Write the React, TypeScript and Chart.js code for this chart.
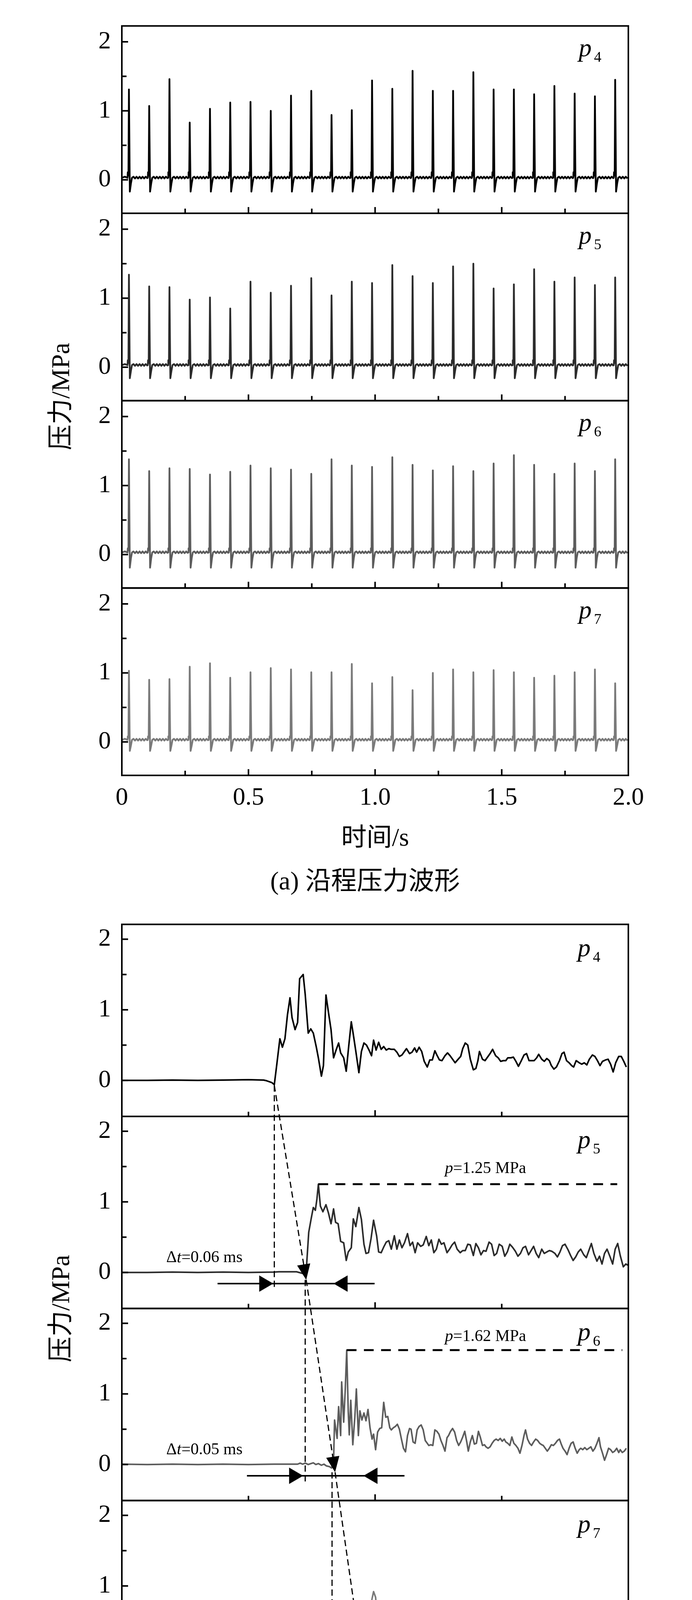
import React, { useEffect, useRef } from 'react';
import { Chart, registerables } from 'chart.js';

Chart.register(...registerables);

const SERIF = '"Liberation Serif", "Times New Roman", serif';
const MIXED = '"Liberation Serif", "Noto Sans CJK SC", serif';

// ---------- shared axis data ----------
const PANEL_IDS = ['y4', 'y5', 'y6', 'y7'];
const PANEL_SUBS = ['4', '5', '6', '7'];
const LINE_COLORS = ['#000000', '#2b2b2b', '#5c5c5c', '#7a7a7a'];
const Y_TICKS = [0, 0.5, 1, 1.5, 2];
const XA_TICKS = [0, 0.25, 0.5, 0.75, 1, 1.25, 1.5, 1.75, 2];
const XA_LABELS = ['0', '', '0.5', '', '1.0', '', '1.5', '', '2.0'];
const XB_TICKS = [0, 0.25, 0.5, 0.75, 1];
const XB_LABELS = ['0', '', '0.5', '', '1.0'];

// ---------- (a) pressure along the line: spike times and peaks ----------
const SPIKE_TIMES = [0.028, 0.108, 0.188, 0.268, 0.348, 0.428, 0.508, 0.588, 0.668, 0.748, 0.828, 0.908, 0.988,
  1.068, 1.148, 1.228, 1.308, 1.388, 1.468, 1.548, 1.628, 1.708, 1.788, 1.868, 1.948];
const PEAKS_P4 = [1.31, 1.07, 1.46, 0.83, 1.03, 1.12, 1.13, 1.0, 1.22, 1.29, 0.94, 1.01, 1.44, 1.32, 1.58, 1.29,
  1.29, 1.56, 1.31, 1.31, 1.24, 1.36, 1.25, 1.21, 1.45];
const PEAKS_P5 = [1.34, 1.17, 1.16, 0.98, 1.01, 0.85, 1.24, 1.08, 1.18, 1.29, 1.04, 1.24, 1.22, 1.48, 1.32, 1.22,
  1.46, 1.5, 1.14, 1.2, 1.42, 1.24, 1.3, 1.19, 1.3];
const PEAKS_P6 = [1.38, 1.21, 1.25, 1.24, 1.16, 1.2, 1.29, 1.25, 1.23, 1.17, 1.38, 1.29, 1.27, 1.41, 1.3, 1.22,
  1.28, 1.21, 1.32, 1.44, 1.3, 1.17, 1.32, 1.21, 1.38];
const PEAKS_P7 = [1.03, 0.9, 0.91, 1.09, 1.14, 0.93, 1.01, 1.07, 1.05, 1.01, 1.01, 1.13, 0.85, 0.94, 0.75, 1.0,
  1.05, 1.01, 1.04, 1.01, 0.93, 0.96, 1.01, 1.05, 0.85];
const TROUGHS = [-0.17, -0.16, -0.19, -0.13];
const BUMPS = [0.11, 0.1, 0.09, 0.08];
// one pulse: time offset from the peak, level (index 1 bump, 3 peak, 4 trough)
const PULSE_DT = [-0.0055, -0.0045, -0.002, 0, 0.0035, 0.008, 0.012, 0.018, 0.024, 0.03, 0.036, 0.042, 0.048,
  0.054, 0.06, 0.066, 0.072];
const PULSE_LEVEL = [0.03, 0.11, 0.06, 1.0, -0.17, -0.05, 0.03, 0.045, 0.02, 0.045, 0.02, 0.045, 0.02, 0.045,
  0.02, 0.045, 0.025];
const LEAD_IN = [[0, 0.03], [0.012, 0.045]];

// ---------- (b) single cycle, read point by point ----------
const P4_CYCLE = [[0, 0], [0.05, 0.0], [0.1, 0.005], [0.15, 0.0], [0.2, 0.005], [0.25, 0.01], [0.28, 0.005],
  [0.286, -0.005], [0.296, -0.03], [0.301, -0.06], [0.306, 0.23], [0.312, 0.59], [0.317, 0.47], [0.322, 0.59],
  [0.327, 0.93], [0.332, 1.17], [0.336, 0.89], [0.342, 0.72], [0.347, 0.82], [0.351, 1.44], [0.358, 1.5],
  [0.362, 1.22], [0.368, 0.67], [0.373, 0.73], [0.378, 0.67], [0.384, 0.47], [0.388, 0.32], [0.394, 0.06],
  [0.398, 0.21], [0.403, 1.21], [0.408, 0.96], [0.413, 0.72], [0.418, 0.32], [0.423, 0.43], [0.428, 0.53],
  [0.432, 0.39], [0.438, 0.32], [0.443, 0.13], [0.448, 0.49], [0.453, 0.83], [0.457, 0.65], [0.462, 0.41],
  [0.468, 0.11], [0.473, 0.41], [0.478, 0.53], [0.483, 0.5], [0.488, 0.43], [0.493, 0.35], [0.497, 0.57],
  [0.502, 0.43], [0.507, 0.54], [0.512, 0.44], [0.517, 0.48], [0.522, 0.43], [0.527, 0.45], [0.532, 0.44],
  [0.538, 0.44], [0.543, 0.4], [0.548, 0.34], [0.553, 0.36], [0.558, 0.41], [0.562, 0.45], [0.568, 0.38],
  [0.573, 0.4], [0.578, 0.46], [0.582, 0.4], [0.587, 0.47], [0.592, 0.41], [0.597, 0.27], [0.603, 0.19],
  [0.608, 0.29], [0.613, 0.29], [0.618, 0.42], [0.622, 0.36], [0.627, 0.29], [0.632, 0.28], [0.638, 0.35],
  [0.643, 0.39], [0.648, 0.35], [0.653, 0.3], [0.658, 0.25], [0.664, 0.3], [0.669, 0.34], [0.673, 0.45],
  [0.678, 0.53], [0.683, 0.5], [0.688, 0.3], [0.694, 0.15], [0.699, 0.17], [0.703, 0.28], [0.706, 0.41],
  [0.712, 0.3], [0.717, 0.28], [0.722, 0.33], [0.727, 0.38], [0.732, 0.44], [0.738, 0.35], [0.743, 0.32],
  [0.748, 0.27], [0.753, 0.28], [0.758, 0.28], [0.762, 0.32], [0.768, 0.32], [0.773, 0.33], [0.778, 0.27],
  [0.783, 0.2], [0.788, 0.27], [0.794, 0.36], [0.799, 0.38], [0.804, 0.28], [0.809, 0.28], [0.814, 0.28],
  [0.819, 0.32], [0.823, 0.37], [0.829, 0.3], [0.834, 0.27], [0.839, 0.31], [0.844, 0.28], [0.848, 0.21],
  [0.853, 0.16], [0.858, 0.19], [0.864, 0.28], [0.869, 0.38], [0.873, 0.4], [0.878, 0.28], [0.883, 0.25],
  [0.888, 0.21], [0.892, 0.19], [0.897, 0.28], [0.903, 0.25], [0.908, 0.23], [0.913, 0.25], [0.918, 0.22],
  [0.923, 0.3], [0.929, 0.36], [0.934, 0.34], [0.939, 0.28], [0.944, 0.21], [0.949, 0.27], [0.955, 0.29],
  [0.96, 0.3], [0.965, 0.23], [0.97, 0.12], [0.975, 0.25], [0.981, 0.34], [0.986, 0.34], [0.991, 0.27],
  [0.996, 0.19]];

const P5_CYCLE = [[0, 0], [0.05, 0.0], [0.1, 0.005], [0.15, 0.0], [0.2, 0.005], [0.25, 0.0], [0.3, 0.005],
  [0.31, 0.01], [0.33, 0.01], [0.345, 0.01], [0.355, -0.01], [0.361, -0.02], [0.364, 0.02], [0.369, 0.57],
  [0.374, 0.77], [0.378, 0.92], [0.382, 0.88], [0.385, 1.03], [0.388, 1.25], [0.392, 0.94], [0.397, 0.86],
  [0.403, 0.96], [0.408, 0.84], [0.413, 0.69], [0.418, 0.9], [0.422, 0.71], [0.427, 0.69], [0.432, 0.44],
  [0.438, 0.42], [0.443, 0.17], [0.447, 0.29], [0.453, 0.35], [0.457, 0.76], [0.462, 0.65], [0.468, 0.92],
  [0.473, 0.75], [0.478, 0.4], [0.482, 0.27], [0.487, 0.28], [0.492, 0.48], [0.497, 0.74], [0.503, 0.52],
  [0.507, 0.29], [0.512, 0.28], [0.517, 0.36], [0.522, 0.43], [0.527, 0.45], [0.532, 0.33], [0.538, 0.52],
  [0.543, 0.33], [0.548, 0.46], [0.553, 0.35], [0.558, 0.42], [0.564, 0.55], [0.569, 0.38], [0.574, 0.43],
  [0.579, 0.28], [0.584, 0.42], [0.59, 0.37], [0.595, 0.39], [0.601, 0.51], [0.606, 0.38], [0.611, 0.46],
  [0.616, 0.28], [0.621, 0.33], [0.626, 0.47], [0.631, 0.4], [0.636, 0.42], [0.642, 0.28], [0.647, 0.33],
  [0.652, 0.39], [0.657, 0.43], [0.662, 0.33], [0.668, 0.28], [0.673, 0.31], [0.678, 0.31], [0.683, 0.4],
  [0.688, 0.39], [0.694, 0.24], [0.699, 0.41], [0.704, 0.35], [0.709, 0.25], [0.714, 0.31], [0.719, 0.3],
  [0.725, 0.43], [0.73, 0.4], [0.735, 0.24], [0.74, 0.27], [0.745, 0.4], [0.751, 0.37], [0.756, 0.23],
  [0.761, 0.29], [0.766, 0.4], [0.771, 0.36], [0.777, 0.3], [0.782, 0.23], [0.787, 0.27], [0.792, 0.35],
  [0.797, 0.37], [0.803, 0.25], [0.808, 0.31], [0.813, 0.37], [0.818, 0.27], [0.823, 0.21], [0.829, 0.33],
  [0.834, 0.27], [0.839, 0.29], [0.844, 0.31], [0.849, 0.3], [0.855, 0.27], [0.86, 0.22], [0.865, 0.29],
  [0.87, 0.38], [0.875, 0.4], [0.881, 0.32], [0.886, 0.24], [0.891, 0.17], [0.896, 0.22], [0.901, 0.29],
  [0.906, 0.33], [0.912, 0.25], [0.917, 0.21], [0.922, 0.31], [0.927, 0.41], [0.932, 0.27], [0.938, 0.16],
  [0.943, 0.23], [0.948, 0.12], [0.953, 0.27], [0.958, 0.33], [0.964, 0.22], [0.969, 0.12], [0.974, 0.33],
  [0.979, 0.41], [0.984, 0.24], [0.99, 0.08], [0.995, 0.12], [1.0, 0.1]];

const P6_CYCLE = [[0, 0.005], [0.05, 0.0], [0.1, 0.005], [0.15, 0.0], [0.2, 0.005], [0.25, 0.0], [0.3, 0.005],
  [0.33, 0.005], [0.347, 0.005], [0.352, 0.02], [0.357, 0.005], [0.362, 0.02], [0.368, 0.0], [0.373, 0.013],
  [0.378, 0.024], [0.383, 0.0], [0.388, 0.013], [0.394, -0.01], [0.399, 0.005], [0.404, -0.02], [0.41, -0.03],
  [0.414, -0.05], [0.418, 0.05], [0.42, 0.63], [0.425, 0.37], [0.428, 0.82], [0.432, 0.41], [0.434, 1.17],
  [0.438, 0.6], [0.441, 1.05], [0.444, 1.62], [0.447, 0.75], [0.449, 0.42], [0.452, 0.91], [0.456, 0.28],
  [0.46, 0.67], [0.463, 1.07], [0.467, 0.41], [0.47, 0.76], [0.474, 0.63], [0.478, 0.73], [0.482, 0.62],
  [0.486, 0.78], [0.49, 0.52], [0.494, 0.36], [0.497, 0.43], [0.501, 0.21], [0.505, 0.46], [0.509, 0.51],
  [0.513, 0.52], [0.517, 0.88], [0.521, 0.67], [0.525, 0.68], [0.529, 0.52], [0.532, 0.49], [0.536, 0.52],
  [0.54, 0.54], [0.544, 0.57], [0.548, 0.5], [0.552, 0.36], [0.556, 0.23], [0.56, 0.18], [0.564, 0.41],
  [0.568, 0.51], [0.571, 0.5], [0.575, 0.32], [0.579, 0.3], [0.583, 0.49], [0.587, 0.54], [0.591, 0.56],
  [0.595, 0.49], [0.599, 0.34], [0.603, 0.3], [0.606, 0.27], [0.61, 0.28], [0.614, 0.27], [0.618, 0.49],
  [0.622, 0.47], [0.626, 0.43], [0.63, 0.34], [0.634, 0.27], [0.638, 0.19], [0.642, 0.38], [0.645, 0.41],
  [0.649, 0.47], [0.653, 0.51], [0.657, 0.46], [0.661, 0.34], [0.665, 0.27], [0.669, 0.32], [0.673, 0.39],
  [0.677, 0.47], [0.681, 0.32], [0.684, 0.19], [0.688, 0.32], [0.692, 0.41], [0.696, 0.29], [0.7, 0.3],
  [0.704, 0.47], [0.708, 0.38], [0.712, 0.27], [0.716, 0.28], [0.719, 0.25], [0.723, 0.23], [0.727, 0.25],
  [0.731, 0.3], [0.735, 0.34], [0.739, 0.36], [0.743, 0.34], [0.747, 0.37], [0.751, 0.33], [0.755, 0.36],
  [0.758, 0.32], [0.762, 0.3], [0.766, 0.27], [0.77, 0.39], [0.774, 0.3], [0.778, 0.27], [0.782, 0.23],
  [0.786, 0.16], [0.79, 0.27], [0.794, 0.41], [0.797, 0.49], [0.801, 0.36], [0.805, 0.3], [0.809, 0.27],
  [0.813, 0.32], [0.817, 0.36], [0.821, 0.34], [0.825, 0.3], [0.829, 0.28], [0.832, 0.27], [0.836, 0.23],
  [0.84, 0.19], [0.844, 0.23], [0.848, 0.28], [0.852, 0.27], [0.856, 0.3], [0.86, 0.34], [0.864, 0.36],
  [0.868, 0.28], [0.871, 0.23], [0.875, 0.19], [0.879, 0.14], [0.883, 0.23], [0.887, 0.3], [0.891, 0.32],
  [0.895, 0.23], [0.899, 0.16], [0.903, 0.21], [0.906, 0.23], [0.91, 0.21], [0.914, 0.24], [0.918, 0.21],
  [0.922, 0.23], [0.926, 0.25], [0.93, 0.19], [0.934, 0.23], [0.938, 0.3], [0.942, 0.38], [0.945, 0.25],
  [0.949, 0.16], [0.953, 0.06], [0.957, 0.14], [0.961, 0.23], [0.965, 0.21], [0.969, 0.17], [0.973, 0.19],
  [0.977, 0.23], [0.981, 0.17], [0.984, 0.21], [0.988, 0.17], [0.992, 0.19], [0.996, 0.23]];

const P7_CYCLE = [[0, 0.02], [0.05, 0.015], [0.1, 0.02], [0.15, 0.018], [0.2, 0.02], [0.25, 0.015], [0.3, 0.02],
  [0.35, 0.02], [0.368, 0.02], [0.406, 0.02], [0.413, 0.013], [0.419, 0.017], [0.425, 0.028], [0.43, 0.022],
  [0.435, 0.035], [0.439, 0.028], [0.444, 0.0], [0.449, 0.022], [0.455, 0.046], [0.46, 0.0], [0.465, -0.03],
  [0.469, -0.08], [0.473, 0.12], [0.477, 0.66], [0.481, 0.52], [0.484, 0.64], [0.488, 0.73], [0.491, 0.69],
  [0.494, 0.82], [0.497, 0.92], [0.501, 0.84], [0.505, 0.51], [0.509, 0.62], [0.513, 0.67], [0.517, 0.66],
  [0.521, 0.61], [0.525, 0.58], [0.529, 0.48], [0.532, 0.49], [0.536, 0.52], [0.54, 0.53], [0.544, 0.52],
  [0.548, 0.45], [0.552, 0.38], [0.556, 0.27], [0.56, 0.4], [0.564, 0.43], [0.568, 0.53], [0.571, 0.62],
  [0.575, 0.69], [0.579, 0.79], [0.583, 0.75], [0.587, 0.66], [0.591, 0.62], [0.595, 0.52], [0.599, 0.38],
  [0.603, 0.36], [0.606, 0.45], [0.61, 0.33], [0.614, 0.22], [0.618, 0.33], [0.622, 0.44], [0.626, 0.4],
  [0.63, 0.22], [0.634, 0.36], [0.638, 0.58], [0.642, 0.61], [0.645, 0.47], [0.649, 0.29], [0.653, 0.25],
  [0.657, 0.34], [0.661, 0.44], [0.665, 0.49], [0.669, 0.44], [0.673, 0.58], [0.677, 0.45], [0.681, 0.36],
  [0.684, 0.29], [0.688, 0.3], [0.692, 0.44], [0.696, 0.38], [0.7, 0.34], [0.704, 0.45], [0.708, 0.42],
  [0.712, 0.33], [0.716, 0.38], [0.719, 0.44], [0.723, 0.45], [0.727, 0.44], [0.731, 0.34], [0.735, 0.29],
  [0.739, 0.34], [0.743, 0.42], [0.747, 0.49], [0.751, 0.47], [0.755, 0.4], [0.758, 0.33], [0.762, 0.25],
  [0.766, 0.2], [0.77, 0.23], [0.774, 0.25], [0.778, 0.29], [0.782, 0.33], [0.786, 0.42], [0.79, 0.38],
  [0.794, 0.25], [0.797, 0.2], [0.801, 0.31], [0.805, 0.42], [0.809, 0.34], [0.813, 0.33], [0.817, 0.23],
  [0.821, 0.18], [0.825, 0.12], [0.829, 0.22], [0.832, 0.25], [0.836, 0.29], [0.84, 0.22], [0.844, 0.25],
  [0.848, 0.2], [0.852, 0.29], [0.856, 0.36], [0.86, 0.4], [0.864, 0.34], [0.868, 0.29], [0.871, 0.23],
  [0.875, 0.16], [0.879, 0.2], [0.883, 0.2], [0.887, 0.22], [0.891, 0.2], [0.895, 0.23], [0.899, 0.27],
  [0.903, 0.31], [0.906, 0.33], [0.91, 0.25], [0.914, 0.2], [0.918, 0.18], [0.922, 0.16], [0.926, 0.18],
  [0.93, 0.22], [0.934, 0.25], [0.938, 0.27], [0.942, 0.22], [0.945, 0.16], [0.949, 0.18], [0.953, 0.14],
  [0.957, 0.2], [0.961, 0.23], [0.965, 0.16], [0.969, 0.09], [0.973, 0.16], [0.977, 0.2], [0.981, 0.22],
  [0.984, 0.16], [0.988, 0.18], [0.992, 0.2], [0.996, 0.19]];

// ---------- (b) annotations (data coordinates) ----------
const ARRIVALS = [
  { axis: 'y4', x: 0.301, y: -0.07 },
  { axis: 'y5', x: 0.364, y: -0.105 },
  { axis: 'y6', x: 0.421, y: -0.11 },
  { axis: 'y7', x: 0.475, y: -0.09 },
];
const DROP_LINES = [
  { x: 0.301, fromAxis: 'y4', fromY: -0.07, toAxis: 'y5', toY: -0.24 },
  { x: 0.362, fromAxis: 'y5', fromY: -0.105, toAxis: 'y6', toY: -0.25 },
  { x: 0.415, fromAxis: 'y6', fromY: -0.11, toAxis: 'y7', toY: -0.22 },
];
const DIM_LINES = [
  { axis: 'y5', y: -0.157, x0: 0.189, x1: 0.499, tipL: 0.299, tipR: 0.418 },
  { axis: 'y6', y: -0.16, x0: 0.247, x1: 0.558, tipL: 0.358, tipR: 0.477 },
  { axis: 'y7', y: -0.125, x0: 0.301, x1: 0.611, tipL: 0.412, tipR: 0.53 },
];
const LEVEL_LINES = [
  { axis: 'y5', y: 1.25, x0: 0.388, x1: 0.978 },
  { axis: 'y6', y: 1.62, x0: 0.444, x1: 0.988 },
];
const NOTE_TEXTS = [
  { axis: 'y5', x: 0.718, y: 1.47, parts: [['p', true], ['=1.25 MPa', false]] },
  { axis: 'y6', x: 0.718, y: 1.81, parts: [['p', true], ['=1.62 MPa', false]] },
  { axis: 'y5', x: 0.163, y: 0.205, parts: [['\u0394', false], ['t', true], ['=0.06 ms', false]] },
  { axis: 'y6', x: 0.163, y: 0.207, parts: [['\u0394', false], ['t', true], ['=0.05 ms', false]] },
  { axis: 'y7', x: 0.163, y: 0.24, parts: [['\u0394', false], ['t', true], ['=0.055 ms', false]] },
];

// ---------- builders ----------
function spikeTrain(peaks: number[], trough: number, bump: number) {
  const pts: { x: number; y: number }[] = LEAD_IN.map(([x, y]) => ({ x, y }));
  SPIKE_TIMES.forEach((t, k) => {
    PULSE_DT.forEach((dt, i) => {
      const x = t + dt;
      if (x < 0 || x > 2) return;
      const y = i === 1 ? bump : i === 3 ? peaks[k] : i === 4 ? trough : PULSE_LEVEL[i];
      pts.push({ x: Math.round(x * 10000) / 10000, y });
    });
  });
  return pts;
}
const toXY = (arr: number[][]) => arr.map(([x, y]) => ({ x, y }));

function yScale(weight: number, min: number, max: number) {
  return {
    type: 'linear',
    position: 'left',
    stack: 'panels',
    stackWeight: 1,
    weight,
    min,
    max,
    grid: { display: false, drawTicks: false },
    border: { display: false },
    ticks: {
      autoSkip: false,
      padding: 28,
      color: '#000',
      font: { family: SERIF, size: 64 },
      callback: (v: number) => (Number.isInteger(v) ? String(v) : ''),
    },
    afterBuildTicks: (s: any) => {
      s.ticks = Y_TICKS.map((value) => ({ value }));
    },
    afterFit: (s: any) => {
      s.width = 312;
    },
  };
}

function xScale(max: number, ticks: number[], labels: string[], height: number, titleBottom: number) {
  return {
    type: 'linear',
    position: 'bottom',
    min: 0,
    max,
    grid: { display: false, drawTicks: false },
    border: { display: false },
    ticks: {
      autoSkip: false,
      maxRotation: 0,
      minRotation: 0,
      padding: 20,
      color: '#000',
      font: { family: SERIF, size: 64 },
      callback: (_v: number, i: number) => labels[i] ?? '',
    },
    afterBuildTicks: (s: any) => {
      s.ticks = ticks.map((value) => ({ value }));
    },
    title: {
      display: true,
      text: '时间/s',
      color: '#000',
      font: { family: MIXED, size: 65 },
      padding: { top: 0, bottom: titleBottom },
    },
    afterFit: (s: any) => {
      s.height = height;
    },
  };
}

function line(ctx: CanvasRenderingContext2D, x1: number, y1: number, x2: number, y2: number) {
  ctx.beginPath();
  ctx.moveTo(x1, y1);
  ctx.lineTo(x2, y2);
  ctx.stroke();
}

function arrowHead(ctx: CanvasRenderingContext2D, tx: number, ty: number, ang: number, len: number, half: number) {
  const bx = tx - len * Math.cos(ang);
  const by = ty - len * Math.sin(ang);
  const nx = -Math.sin(ang);
  const ny = Math.cos(ang);
  ctx.beginPath();
  ctx.moveTo(tx, ty);
  ctx.lineTo(bx + nx * half, by + ny * half);
  ctx.lineTo(bx - nx * half, by - ny * half);
  ctx.closePath();
  ctx.fill();
}

function drawRich(ctx: CanvasRenderingContext2D, parts: any[], cx: number, cy: number, size: number) {
  const fonts = parts.map(([, it]) => `${it ? 'italic ' : ''}${size}px ${SERIF}`);
  let total = 0;
  const ws = parts.map(([t], i) => {
    ctx.font = fonts[i];
    const w = ctx.measureText(t).width;
    total += w;
    return w;
  });
  let x = cx - total / 2;
  ctx.textAlign = 'left';
  ctx.textBaseline = 'middle';
  parts.forEach(([t], i) => {
    ctx.font = fonts[i];
    ctx.fillText(t, x, cy);
    x += ws[i];
  });
}

function makeDecor(xTicks: number[], labelX: number, labelY: number, withNotes: boolean) {
  return {
    id: 'decor',
    afterDatasetsDraw(chart: any) {
      const ctx: CanvasRenderingContext2D = chart.ctx;
      const xs = chart.scales.x;
      const px = (v: number) => xs.getPixelForValue(v);
      const py = (axis: string, v: number) => chart.scales[axis].getPixelForValue(v);
      ctx.save();
      ctx.strokeStyle = '#000';
      ctx.fillStyle = '#000';

      if (withNotes) {
        // pressure level lines
        ctx.setLineDash([25, 19]);
        ctx.lineWidth = 5;
        LEVEL_LINES.forEach((l) => line(ctx, px(l.x0), py(l.axis, l.y), px(l.x1), py(l.axis, l.y)));
        // vertical drop lines
        ctx.setLineDash([16, 9]);
        ctx.lineWidth = 3;
        DROP_LINES.forEach((d) => line(ctx, px(d.x), py(d.fromAxis, d.fromY), px(d.x), py(d.toAxis, d.toY)));
        // diagonal propagation arrows
        for (let i = 1; i < ARRIVALS.length; i++) {
          const s = ARRIVALS[i - 1];
          const t = ARRIVALS[i];
          const sx = px(s.x), sy = py(s.axis, s.y), tx = px(t.x), ty = py(t.axis, t.y);
          const ang = Math.atan2(ty - sy, tx - sx);
          ctx.setLineDash([16, 9]);
          ctx.lineWidth = 3;
          line(ctx, sx, sy, tx - 36 * Math.cos(ang), ty - 36 * Math.sin(ang));
          ctx.setLineDash([]);
          arrowHead(ctx, tx, ty, ang, 40, 17);
        }
        // time-difference markers
        ctx.setLineDash([]);
        ctx.lineWidth = 4;
        DIM_LINES.forEach((d) => {
          const y = py(d.axis, d.y);
          line(ctx, px(d.x0), y, px(d.x1), y);
          arrowHead(ctx, px(d.tipL), y, 0, 36, 21);
          arrowHead(ctx, px(d.tipR), y, Math.PI, 36, 21);
        });
        NOTE_TEXTS.forEach((n) => drawRich(ctx, n.parts, px(n.x), py(n.axis, n.y), 42));
      }

      // frames and inward ticks
      ctx.setLineDash([]);
      ctx.lineWidth = 4;
      ctx.lineCap = 'butt';
      const xmin = xTicks[0];
      const xmax = xTicks[xTicks.length - 1];
      PANEL_IDS.forEach((id, idx) => {
        const s = chart.scales[id];
        ctx.strokeRect(xs.left, s.top, xs.right - xs.left, s.bottom - s.top);
        Y_TICKS.forEach((v) => {
          const y = s.getPixelForValue(v);
          line(ctx, xs.left, y, xs.left + (Number.isInteger(v) ? 16 : 12), y);
        });
        xTicks.forEach((v, i) => {
          if (v <= xmin || v >= xmax) return;
          const x = px(v);
          line(ctx, x, s.bottom, x, s.bottom - (i % 2 === 0 ? 16 : 12));
        });
        // panel label p with subscript
        const lx = px(labelX);
        const ly = s.getPixelForValue(labelY);
        ctx.textAlign = 'left';
        ctx.textBaseline = 'alphabetic';
        ctx.font = `italic 66px ${SERIF}`;
        ctx.fillText('p', lx, ly);
        const w = ctx.measureText('p').width;
        ctx.font = `38px ${SERIF}`;
        ctx.fillText(PANEL_SUBS[idx], lx + w + 6, ly + 14);
      });
      ctx.restore();
    },
  };
}

function buildConfig(kind: 'a' | 'b'): any {
  const isA = kind === 'a';
  const yMin = isA ? -0.485 : -0.51;
  const yMax = isA ? 2.23 : 2.21;
  const seriesA = [
    spikeTrain(PEAKS_P4, TROUGHS[0], BUMPS[0]),
    spikeTrain(PEAKS_P5, TROUGHS[1], BUMPS[1]),
    spikeTrain(PEAKS_P6, TROUGHS[2], BUMPS[2]),
    spikeTrain(PEAKS_P7, TROUGHS[3], BUMPS[3]),
  ];
  const seriesB = [toXY(P4_CYCLE), toXY(P5_CYCLE), toXY(P6_CYCLE), toXY(P7_CYCLE)];
  const series = isA ? seriesA : seriesB;
  const xTicks = isA ? XA_TICKS : XB_TICKS;
  return {
    type: 'line',
    data: {
      datasets: PANEL_IDS.map((id, i) => ({
        label: 'p' + PANEL_SUBS[i],
        data: series[i],
        xAxisID: 'x',
        yAxisID: id,
        borderColor: LINE_COLORS[i],
        borderWidth: isA ? 4.5 : 4,
        borderJoinStyle: 'round',
        pointRadius: 0,
        tension: 0,
        fill: false,
      })),
    },
    options: {
      responsive: false,
      maintainAspectRatio: false,
      devicePixelRatio: 1,
      animation: false,
      events: [],
      layout: { padding: { top: isA ? 3 : 57, right: 163, bottom: 0, left: 0 } },
      plugins: { legend: { display: false }, tooltip: { enabled: false } },
      scales: {
        x: isA ? xScale(2, XA_TICKS, XA_LABELS, 215, 13) : xScale(1, XB_TICKS, XB_LABELS, 217, 16),
        y4: yScale(4, yMin, yMax),
        y5: yScale(3, yMin, yMax),
        y6: yScale(2, yMin, yMax),
        y7: yScale(1, yMin, yMax),
      },
    },
    plugins: [makeDecor(xTicks, isA ? 1.804 : 0.9, isA ? 1.79 : 1.76, !isA)],
  };
}

const textBlock = (cx: number, cy: number, size: number, rotate: boolean): React.CSSProperties => ({
  position: 'absolute',
  left: cx - 400,
  top: cy - 45,
  width: 800,
  height: 90,
  lineHeight: '90px',
  textAlign: 'center',
  fontFamily: MIXED,
  fontSize: size,
  color: '#000',
  whiteSpace: 'nowrap',
  transform: rotate ? 'rotate(-90deg)' : undefined,
});

export default function App() {
  const refA = useRef<HTMLCanvasElement | null>(null);
  const refB = useRef<HTMLCanvasElement | null>(null);

  useEffect(() => {
    const a = new Chart(refA.current as HTMLCanvasElement, buildConfig('a'));
    const b = new Chart(refB.current as HTMLCanvasElement, buildConfig('b'));
    return () => {
      a.destroy();
      b.destroy();
    };
  }, []);

  return (
    <div style={{ position: 'absolute', left: 0, top: 0, width: 1772, height: 4651, background: '#fff', overflow: 'hidden' }}>
      <canvas ref={refA} width={1772} height={2200} style={{ position: 'absolute', left: 0, top: 0, width: 1772, height: 2200 }} />
      <canvas ref={refB} width={1772} height={2250} style={{ position: 'absolute', left: 0, top: 2300, width: 1772, height: 2250 }} />
      <div style={textBlock(155, 1015, 66, true)}>压力/MPa</div>
      <div style={textBlock(155, 3350, 66, true)}>压力/MPa</div>
      <div style={textBlock(935, 2255, 66, false)}>(a) 沿程压力波形</div>
      <div style={textBlock(952, 4601, 66, false)}>(b) 单个循环压力放大</div>
    </div>
  );
}
